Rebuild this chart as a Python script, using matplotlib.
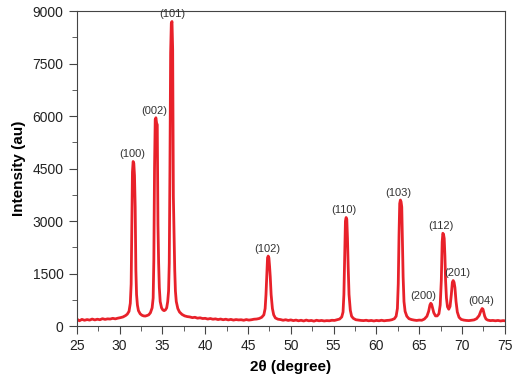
import matplotlib
matplotlib.use("Agg")
import matplotlib.pyplot as plt
from matplotlib.ticker import MultipleLocator

plt.rcParams['font.family'] = ['Liberation Sans', 'DejaVu Sans']

# XRD pattern (2theta in degree, intensity in au)
two_theta = [25.0, 25.3, 25.6, 25.9, 26.2, 26.5, 26.8, 27.1, 27.4, 27.7, 28.0, 28.3, 28.6,
             28.9, 29.2, 29.5, 29.8, 30.1, 30.4, 30.7, 30.9,
             31.1, 31.25, 31.35, 31.42, 31.5, 31.58, 31.66, 31.74, 31.82, 31.9, 31.98, 32.08,
             32.2, 32.4, 32.6, 32.8, 33.0, 33.2, 33.4, 33.6, 33.8, 33.92, 34.0, 34.08, 34.16,
             34.24, 34.32, 34.4, 34.48, 34.56, 34.64, 34.74, 34.9, 35.05, 35.2, 35.35, 35.5,
             35.62, 35.72, 35.8, 35.88, 35.96, 36.04, 36.12, 36.2, 36.28, 36.36, 36.44, 36.52,
             36.62, 36.8, 37.0, 37.3, 37.6, 37.9, 38.2, 38.5, 38.8, 39.1, 39.4, 39.7, 40.0,
             40.3, 40.6, 40.9, 41.2, 41.5, 41.8, 42.1, 42.4, 42.7, 43.0, 43.3, 43.6, 43.9,
             44.2, 44.5, 44.8, 45.1, 45.4, 45.7, 46.0, 46.3, 46.6, 46.85, 47.0, 47.1, 47.2,
             47.28, 47.36, 47.44, 47.52, 47.6, 47.7, 47.85, 48.0, 48.2, 48.5, 48.8, 49.1,
             49.4, 49.7, 50.0, 50.3, 50.6, 50.9, 51.2, 51.5, 51.8, 52.1, 52.4, 52.7, 53.0,
             53.3, 53.6, 53.9, 54.2, 54.5, 54.8, 55.1, 55.4, 55.7, 55.95, 56.1, 56.2, 56.3,
             56.38, 56.46, 56.54, 56.62, 56.7, 56.8, 56.95, 57.1, 57.3, 57.6, 57.9, 58.2,
             58.5, 58.8, 59.1, 59.4, 59.7, 60.0, 60.3, 60.6, 60.9, 61.2, 61.5, 61.8, 62.1,
             62.3, 62.45, 62.55, 62.64, 62.72, 62.8, 62.88, 62.96, 63.04, 63.12, 63.22, 63.35,
             63.55, 63.8, 64.1, 64.4, 64.7, 65.0, 65.3, 65.6, 65.9, 66.1, 66.25, 66.35, 66.45,
             66.55, 66.7, 66.9, 67.1, 67.3, 67.45, 67.58, 67.68, 67.76, 67.84, 67.92, 68.0,
             68.08, 68.18, 68.3, 68.45, 68.6, 68.75, 68.87, 68.97, 69.07, 69.17, 69.3, 69.45,
             69.65, 69.9, 70.2, 70.5, 70.8, 71.1, 71.4, 71.7, 72.0, 72.2, 72.35, 72.45, 72.55,
             72.65, 72.8, 73.0, 73.3, 73.6, 73.9, 74.2, 74.5, 74.8, 75.0]
intensity = [200, 150, 190, 165, 185, 170, 200, 175, 195, 180, 210, 190, 205,
             200, 220, 205, 225, 240, 260, 300, 340,
             420, 650, 1200, 2600, 4400, 4700, 4650, 4300, 3400, 1600, 900, 600,
             440, 350, 310, 290, 285, 300, 320, 380, 520, 800, 1900, 4500, 5900,
             5950, 5800, 5750, 2900, 1800, 1100, 700, 520, 460, 440, 460, 520,
             700, 1000, 1800, 4500, 7800, 8650, 8700, 7900, 3700, 2600, 1600, 1000,
             700, 500, 400, 330, 290, 270, 260, 240, 250, 225, 235, 215, 220,
             200, 215, 195, 205, 185, 200, 180, 195, 175, 190, 170, 185, 175,
             180, 165, 185, 170, 180, 195, 200, 215, 250, 320, 500, 900, 1500,
             1950, 2000, 1950, 1700, 1400, 900, 500, 320, 230, 195, 185, 165,
             180, 160, 175, 155, 170, 150, 165, 145, 170, 150, 160, 140, 165,
             150, 160, 145, 155, 150, 165, 160, 180, 200, 260, 400, 900, 2000,
             3000, 3100, 3050, 2500, 1700, 900, 450, 280, 220, 180, 170, 160,
             155, 165, 150, 160, 145, 160, 150, 165, 150, 160, 165, 180, 210,
             280, 500, 1200, 2600, 3500, 3600, 3550, 3400, 2400, 1400, 700, 420,
             280, 210, 185, 170, 160, 170, 165, 200, 280, 420, 600, 650, 620,
             520, 380, 290, 290, 350, 600, 1300, 2400, 2650, 2620, 2500, 2000,
             1300, 800, 550, 480, 560, 900, 1250, 1300, 1250, 1100, 700, 400,
             250, 190, 170, 160, 155, 165, 175, 210, 300, 430, 500, 480, 380,
             280, 200, 170, 155, 160, 150, 160, 145, 155, 150]

# peak labels
hkl = ['(100)', '(002)', '(101)', '(102)', '(110)', '(103)', '(200)', '(112)', '(201)', '(004)']
peak_pos = [31.45, 34.1, 36.1, 47.3, 56.2, 62.6, 65.5, 67.5, 69.5, 72.2]
peak_top = [4700, 5950, 8700, 2000, 3100, 3600, 650, 2650, 1300, 500]

fig = plt.figure(figsize=(5.12, 3.80), dpi=100)
ax = fig.add_axes([0.150, 0.142, 0.836, 0.829])

ax.plot(two_theta, intensity, color='#e8212a', linewidth=2.0)

for lab, px, py in zip(hkl, peak_pos, peak_top):
    ax.text(px, py + 60, lab, ha='center', va='bottom', fontsize=8, color='#333333')

ax.set_xlim(25, 75)
ax.set_ylim(0, 9000)
ax.xaxis.set_major_locator(MultipleLocator(5))
ax.xaxis.set_minor_locator(MultipleLocator(2.5))
ax.yaxis.set_major_locator(MultipleLocator(1500))
ax.yaxis.set_minor_locator(MultipleLocator(750))
ax.tick_params(which='both', direction='out', colors='#444444', labelcolor='#222222',
               labelsize=10, top=False, right=False)
ax.tick_params(which='major', length=6)
ax.tick_params(which='minor', length=3.5)
for s in ax.spines.values():
    s.set_color('#444444')

ax.set_xlabel('2θ (degree)', fontsize=11, fontweight='bold', labelpad=5)
ax.set_ylabel('Intensity (au)', fontsize=11, fontweight='bold', labelpad=5)

fig.savefig('out.png', dpi=100)
